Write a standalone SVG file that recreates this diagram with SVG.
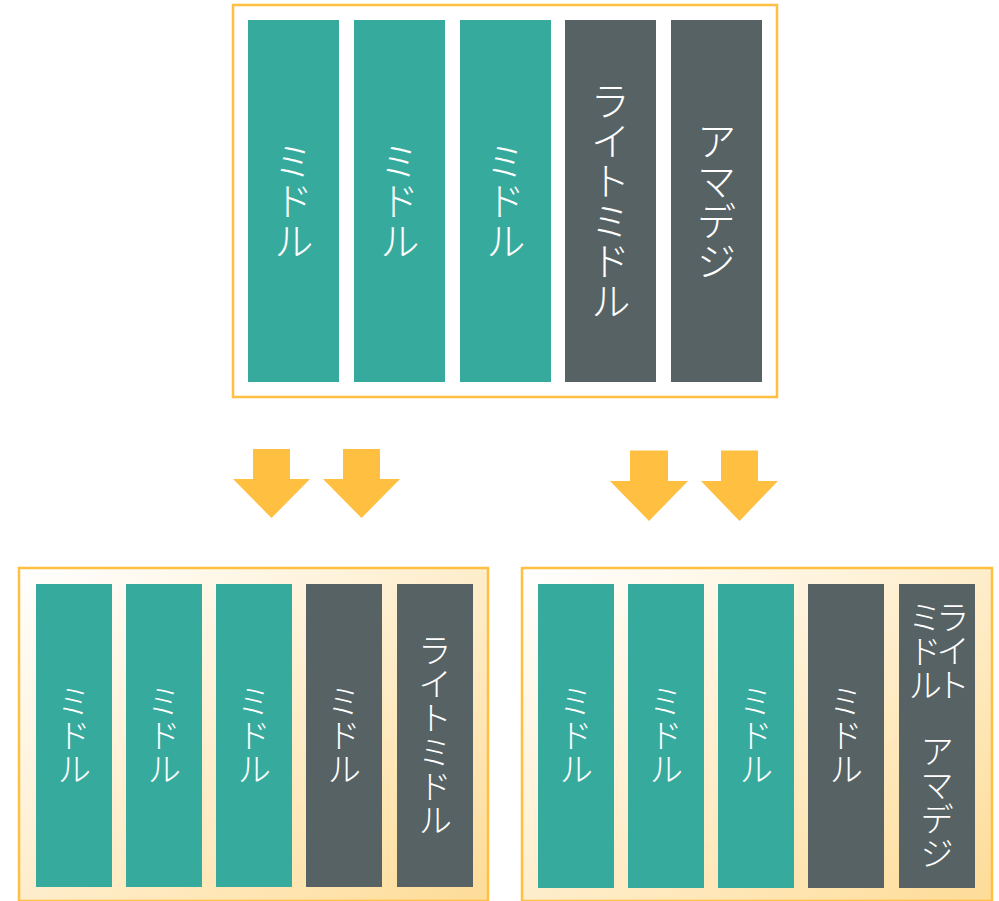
<svg xmlns="http://www.w3.org/2000/svg" width="999" height="901" viewBox="0 0 999 901">
<defs>
<linearGradient id="bg" x1="0" y1="0" x2="1" y2="1">
<stop offset="0" stop-color="#ffffff"/>
<stop offset="1" stop-color="#fedc98"/>
</linearGradient>
<style>
.frame{stroke:#ffbf40;stroke-width:2.5}
.teal{fill:#37aa9e}
.gray{fill:#566264}
.arrow{fill:#ffbf40}
.t{fill:#ffffff;font-family:"Noto Sans CJK JP","Noto Sans",sans-serif;font-weight:300;writing-mode:vertical-rl;text-anchor:middle;dominant-baseline:central}
.big{font-size:40px}
.sm{font-size:34px}
</style>
</defs>
<rect width="999" height="901" fill="#ffffff"/>

<g id="top">
<rect class="frame" x="233" y="5" width="544" height="392" fill="#ffffff"/>
<g id="top-1"><rect class="teal" x="248" y="20" width="91" height="362"/><text class="t big" x="293.5" y="201">ミドル</text></g>
<g id="top-2"><rect class="teal" x="354" y="20" width="91" height="362"/><text class="t big" x="399.5" y="201">ミドル</text></g>
<g id="top-3"><rect class="teal" x="460" y="20" width="91" height="362"/><text class="t big" x="505.5" y="201">ミドル</text></g>
<g id="top-4"><rect class="gray" x="565" y="20" width="91" height="362"/><text class="t big" x="610.5" y="201">ライトミドル</text></g>
<g id="top-5"><rect class="gray" x="671" y="20" width="91" height="362"/><text class="t big" x="716.5" y="201">アマデジ</text></g>
</g>

<g id="connectors">
<polygon class="arrow" points="253,449 290,449 290,479 310,479 271.5,518 233,479 253,479"/>
<polygon class="arrow" points="343,449 380,449 380,479 400,479 361.5,518 323,479 343,479"/>
<polygon class="arrow" points="630,450.5 668,450.5 668,481 688,481 649,521 610,481 630,481"/>
<polygon class="arrow" points="721,450.5 758,450.5 758,481 778,481 739.5,521 701,481 721,481"/>
</g>

<g id="left">
<rect class="frame" x="19" y="568" width="469" height="333" fill="url(#bg)"/>
<g id="left-1"><rect class="teal" x="36" y="584" width="76" height="303"/><text class="t sm" x="74" y="735">ミドル</text></g>
<g id="left-2"><rect class="teal" x="126" y="584" width="76" height="303"/><text class="t sm" x="164" y="735">ミドル</text></g>
<g id="left-3"><rect class="teal" x="216" y="584" width="76" height="303"/><text class="t sm" x="254" y="735">ミドル</text></g>
<g id="left-4"><rect class="gray" x="306" y="584" width="76" height="303"/><text class="t sm" x="344" y="735">ミドル</text></g>
<g id="left-5"><rect class="gray" x="397" y="584" width="76" height="303"/><text class="t sm" x="435" y="735">ライトミドル</text></g>
</g>

<g id="right">
<rect class="frame" x="522" y="568" width="470" height="333" fill="url(#bg)"/>
<g id="right-1"><rect class="teal" x="538" y="584" width="76" height="304"/><text class="t sm" x="576" y="735">ミドル</text></g>
<g id="right-2"><rect class="teal" x="628" y="584" width="76" height="304"/><text class="t sm" x="666" y="735">ミドル</text></g>
<g id="right-3"><rect class="teal" x="718" y="584" width="76" height="304"/><text class="t sm" x="756" y="735">ミドル</text></g>
<g id="right-4"><rect class="gray" x="808" y="584" width="76" height="304"/><text class="t sm" x="846" y="735">ミドル</text></g>
<g id="right-5"><rect class="gray" x="899" y="584" width="76" height="304"/>
<text class="t sm" x="953" y="651">ライト</text>
<text class="t sm" x="925" y="651">ミドル</text>
<text class="t sm" x="937" y="802">アマデジ</text>
</g>
</g>
</svg>
